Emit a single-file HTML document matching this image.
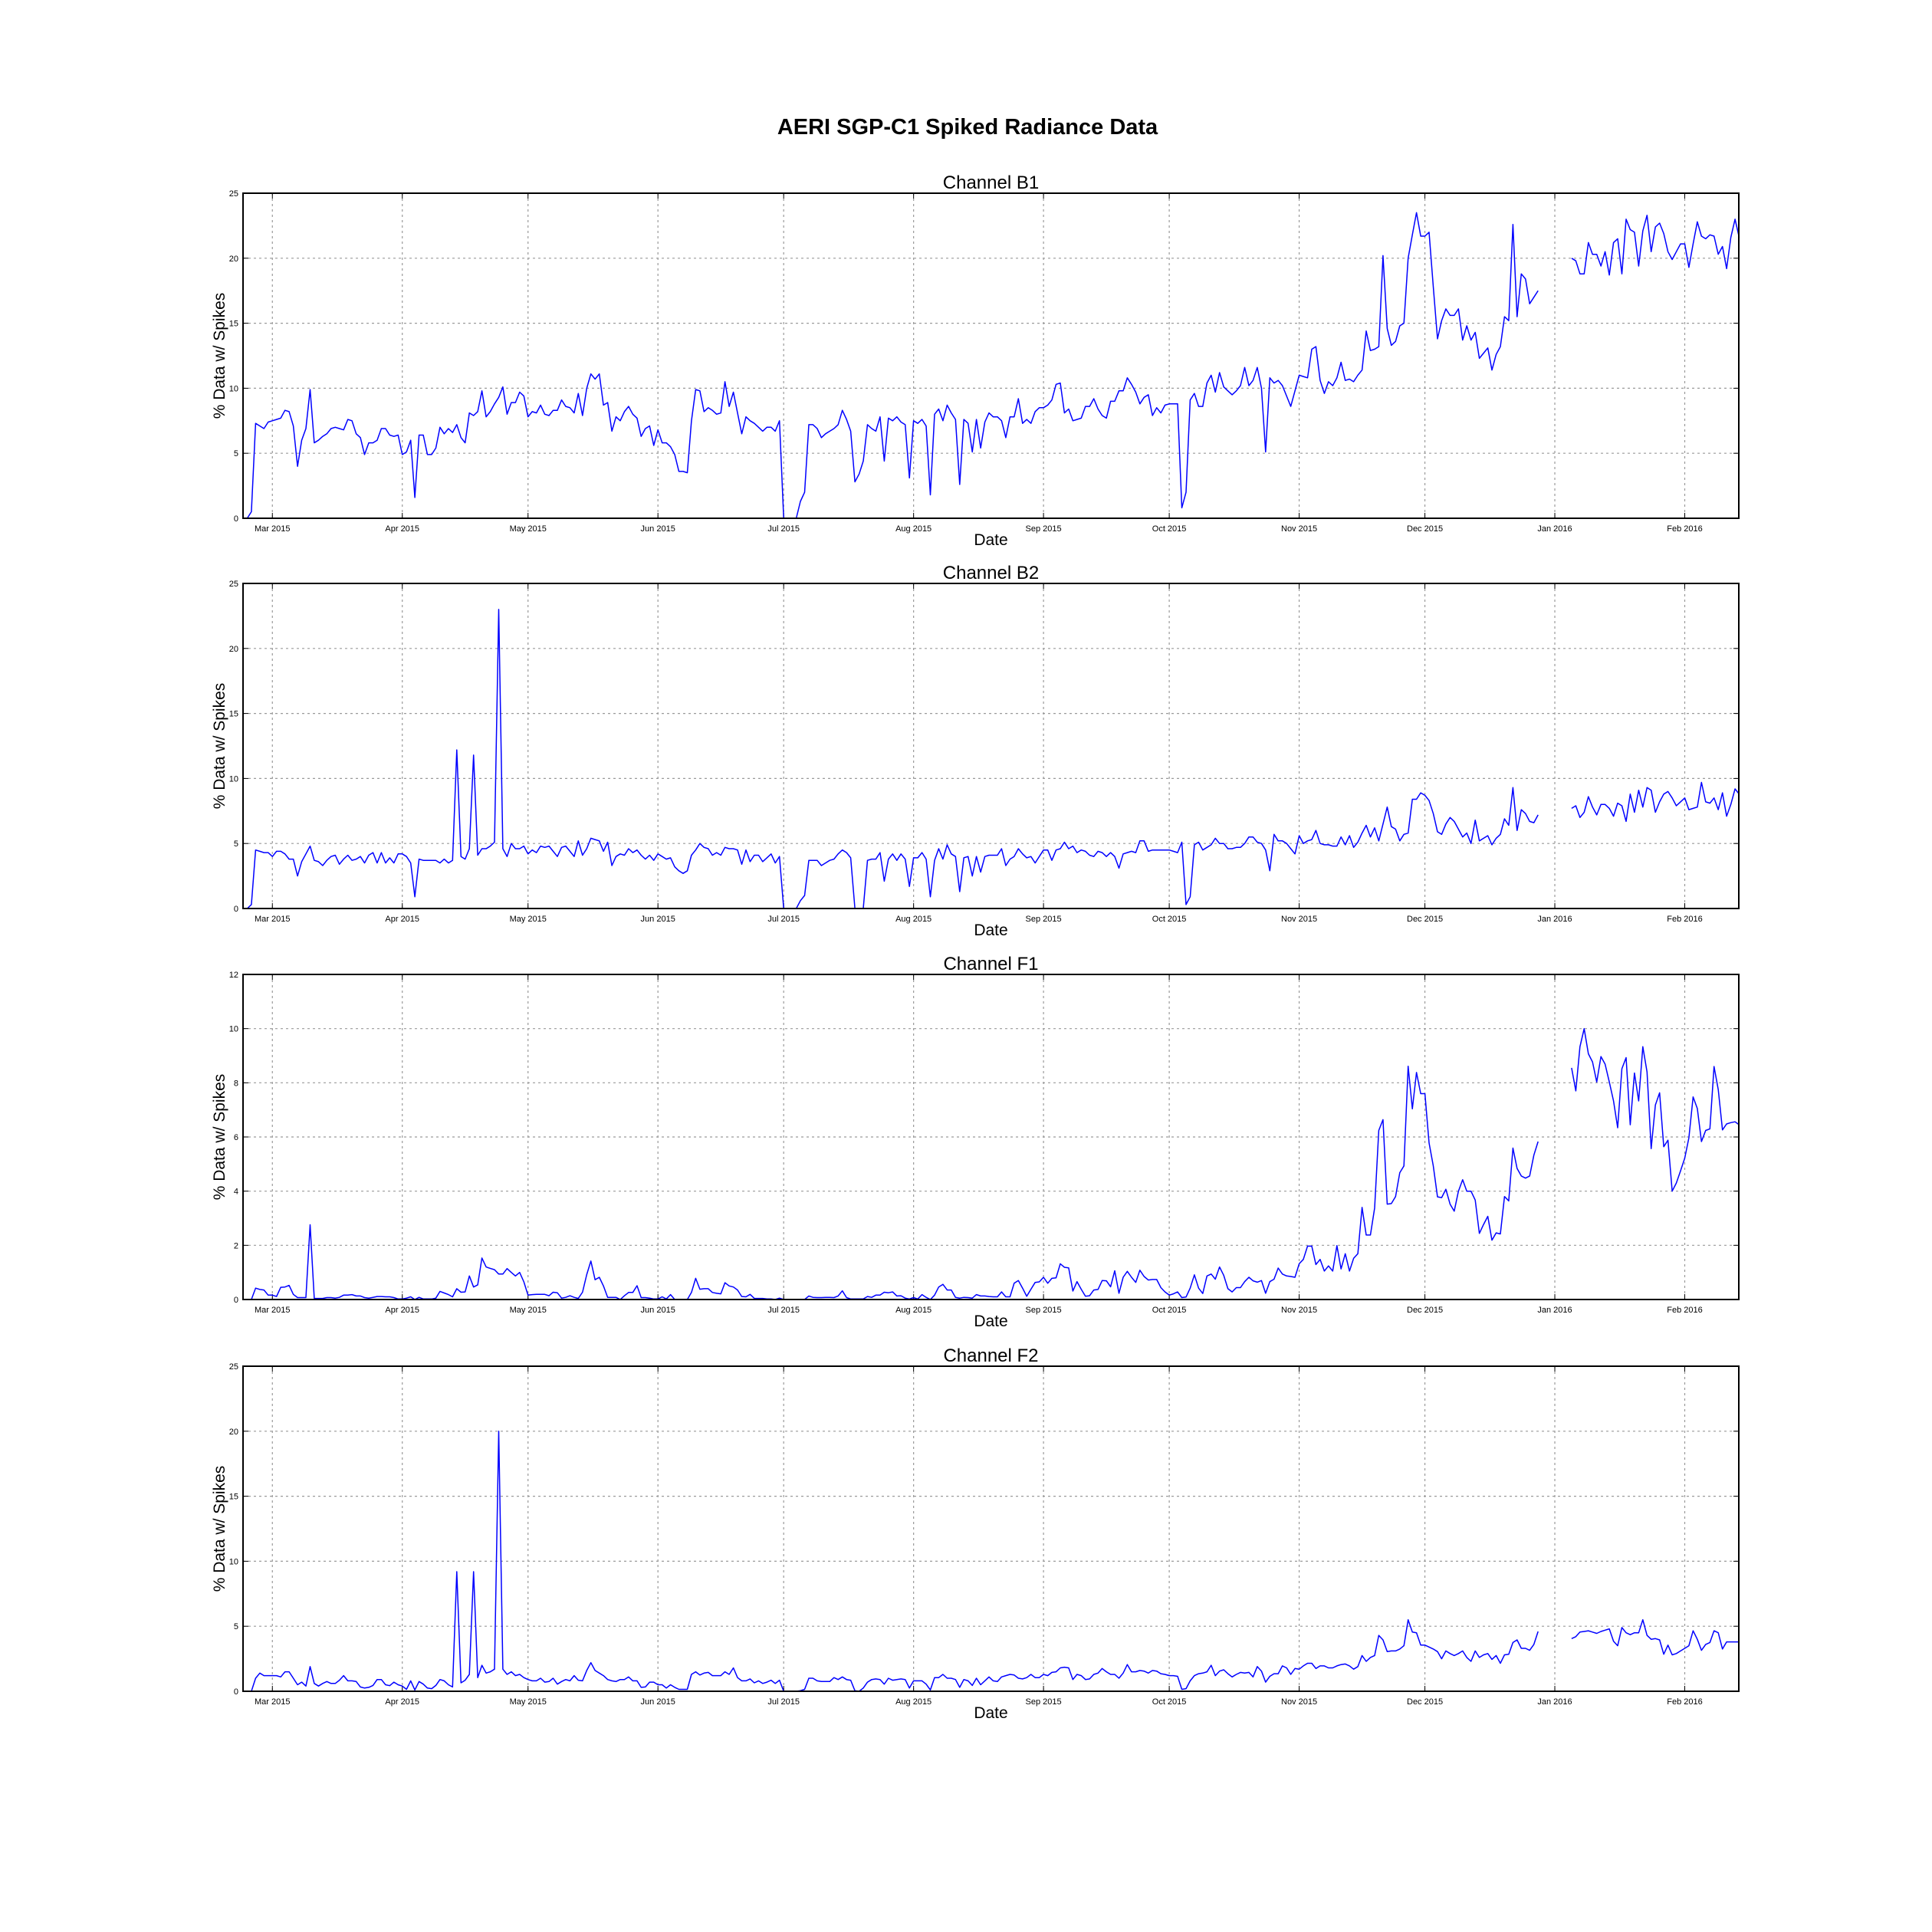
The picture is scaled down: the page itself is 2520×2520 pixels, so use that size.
<!DOCTYPE html>
<html><head><meta charset="utf-8"><style>
html,body{margin:0;padding:0;background:#fff;}
svg{display:block;font-family:"Liberation Sans","DejaVu Sans",sans-serif;}
</style></head><body>
<svg id="fig" width="2520" height="2520" viewBox="0 0 2520 2520" xmlns="http://www.w3.org/2000/svg">
<rect width="2520" height="2520" fill="#fff"/>
<text x="1262" y="175" text-anchor="middle" font-size="29" font-weight="bold">AERI SGP-C1 Spiked Radiance Data</text>
</svg>
<script>
// x-axis tick labels (first of each month)
const tickDates = ['2015-03-01','2015-04-01','2015-05-01','2015-06-01','2015-07-01','2015-08-01','2015-09-01','2015-10-01','2015-11-01','2015-12-01','2016-01-01','2016-02-01'];
const tickLabels = ['Mar 2015','Apr 2015','May 2015','Jun 2015','Jul 2015','Aug 2015','Sep 2015','Oct 2015','Nov 2015','Dec 2015','Jan 2016','Feb 2016'];
// segment start dates; each channel array holds one sub-array per segment of daily values
const segmentStarts = ['2015-02-22','2015-03-01','2015-04-01','2015-05-01','2015-06-01','2015-07-01','2015-08-01','2015-09-01','2015-10-01','2015-11-01','2015-12-01','2016-01-01','2016-02-01'];
const channelNames = ['Channel B1','Channel B2','Channel F1','Channel F2'];
const yMaxes = [25,25,12,25];
const yTickSteps = [5,5,2,5];
const N = null;
const b1 = [
[0,0,0.5,7.3,7.1,6.9,7.4],
[7.5,7.6,7.7,8.3,8.2,7.1,4.0,6.0,6.9,9.9,5.8,6.0,6.3,6.5,6.9,7.0,6.9,6.8,7.6,7.5,6.5,6.2,4.9,5.8,5.8,6.0,6.9,6.9,6.4,6.3,6.4],
[4.9,5.1,6.0,1.6,6.4,6.4,4.9,4.9,5.4,7.0,6.5,6.9,6.6,7.2,6.2,5.8,8.1,7.9,8.2,9.8,7.8,8.2,8.8,9.3,10.1,8.0,8.9,8.9,9.7,9.4],
[7.8,8.2,8.1,8.7,8.0,7.9,8.3,8.3,9.1,8.6,8.5,8.1,9.6,7.9,10.0,11.1,10.7,11.1,8.7,8.9,6.7,7.8,7.5,8.2,8.6,8.0,7.7,6.3,6.9,7.1,5.6],
[6.8,5.8,5.8,5.5,4.9,3.6,3.6,3.5,7.5,9.9,9.8,8.2,8.5,8.3,8.0,8.1,10.5,8.6,9.7,8.1,6.5,7.8,7.5,7.3,7.0,6.7,7.0,7.0,6.7,7.5],
[0,0,0,0,1.3,2.0,7.2,7.2,6.9,6.2,6.5,6.7,6.9,7.2,8.3,7.6,6.7,2.8,3.4,4.4,7.2,6.9,6.7,7.8,4.4,7.7,7.5,7.8,7.4,7.2,3.1],
[7.5,7.3,7.6,7.1,1.8,8.0,8.4,7.5,8.7,8.1,7.6,2.6,7.6,7.3,5.1,7.6,5.4,7.4,8.1,7.8,7.8,7.5,6.2,7.8,7.8,9.2,7.3,7.6,7.3,8.2,8.5],
[8.5,8.7,9.1,10.3,10.4,8.1,8.4,7.5,7.6,7.7,8.6,8.6,9.2,8.4,7.9,7.7,9.0,9.0,9.8,9.8,10.8,10.3,9.7,8.8,9.3,9.5,7.9,8.5,8.1,8.7],
[8.8,8.8,8.8,0.8,2.0,9.1,9.6,8.6,8.6,10.4,11.0,9.7,11.2,10.1,9.8,9.5,9.8,10.2,11.6,10.2,10.6,11.6,10.0,5.1,10.8,10.4,10.6,10.2,9.4,8.6,9.8],
[11.0,10.9,10.8,13.0,13.2,10.6,9.6,10.5,10.2,10.8,12.0,10.6,10.7,10.5,11.0,11.4,14.4,12.9,13.0,13.2,20.2,14.6,13.3,13.6,14.8,15.0,20.0,21.8,23.5,21.7],
[21.7,22.0,17.8,13.8,15.2,16.1,15.6,15.6,16.1,13.7,14.8,13.7,14.3,12.3,12.7,13.1,11.4,12.6,13.2,15.5,15.2,22.6,15.5,18.8,18.4,16.5,17.0,17.5,N,N,N],
[N,N,N,N,20.0,19.8,18.8,18.8,21.2,20.3,20.3,19.4,20.5,18.7,21.2,21.5,18.8,23.0,22.2,22.0,19.4,22.1,23.3,20.5,22.4,22.7,21.9,20.5,19.9,20.5,21.1],
[21.1,19.3,21.1,22.8,21.7,21.5,21.8,21.7,20.3,20.9,19.2,21.6,23.0,21.6]
];
const b2 = [
[0,0,0.3,4.5,4.4,4.3,4.3],
[4.0,4.4,4.4,4.2,3.8,3.8,2.5,3.6,4.2,4.8,3.7,3.6,3.3,3.7,4.0,4.1,3.4,3.8,4.1,3.7,3.8,4.0,3.5,4.1,4.3,3.5,4.3,3.5,3.9,3.5,4.2],
[4.2,4.0,3.5,0.9,3.8,3.7,3.7,3.7,3.7,3.5,3.8,3.5,3.7,12.2,4.0,3.8,4.6,11.8,4.1,4.6,4.6,4.8,5.1,23.0,4.6,4.0,5.0,4.6,4.6,4.8],
[4.2,4.5,4.3,4.8,4.7,4.8,4.4,4.0,4.7,4.8,4.4,4.0,5.2,4.1,4.6,5.4,5.3,5.2,4.4,5.1,3.3,4.0,4.2,4.1,4.6,4.3,4.5,4.1,3.8,4.1,3.7],
[4.2,4.0,3.8,3.9,3.2,2.9,2.7,2.9,4.1,4.5,5.0,4.7,4.6,4.1,4.3,4.1,4.7,4.6,4.6,4.5,3.4,4.5,3.6,4.1,4.1,3.6,3.9,4.2,3.5,4.0],
[0,0,0,0,0.6,1.0,3.7,3.7,3.7,3.3,3.5,3.7,3.8,4.2,4.5,4.3,3.9,0,0,0,3.7,3.8,3.8,4.3,2.1,3.8,4.2,3.7,4.2,3.8,1.7],
[3.9,3.9,4.3,3.8,0.9,3.7,4.6,3.8,4.9,4.2,4.0,1.3,3.9,4.0,2.5,4.0,2.8,4.0,4.1,4.1,4.1,4.6,3.3,3.8,4.0,4.6,4.2,3.9,4.0,3.5,4.0],
[4.5,4.5,3.7,4.5,4.6,5.1,4.6,4.8,4.3,4.5,4.4,4.1,4.0,4.4,4.3,4.0,4.3,4.0,3.1,4.2,4.3,4.4,4.3,5.2,5.2,4.4,4.5,4.5,4.5,4.5],
[4.5,4.4,4.3,5.1,0.3,0.9,4.9,5.1,4.5,4.7,4.9,5.4,5.0,5.0,4.6,4.6,4.7,4.7,5.0,5.5,5.5,5.1,5.0,4.5,2.9,5.7,5.2,5.2,5.0,4.6,4.2],
[5.6,5.0,5.2,5.3,6.0,5.0,4.9,4.9,4.8,4.8,5.5,4.9,5.6,4.7,5.1,5.8,6.4,5.5,6.2,5.2,6.5,7.8,6.3,6.1,5.2,5.7,5.8,8.4,8.4,8.9],
[8.7,8.3,7.3,5.9,5.7,6.5,7.0,6.7,6.1,5.5,5.8,5.0,6.8,5.2,5.4,5.6,4.9,5.4,5.7,6.9,6.4,9.3,6.0,7.6,7.3,6.7,6.6,7.2,N,N,N],
[N,N,N,N,7.7,7.9,7.0,7.4,8.6,7.8,7.2,8.0,8.0,7.7,7.1,8.1,7.9,6.7,8.8,7.4,9.1,7.8,9.3,9.1,7.4,8.2,8.8,9.0,8.5,7.9,8.2],
[8.5,7.6,7.7,7.8,9.7,8.2,8.1,8.5,7.6,8.9,7.1,8.0,9.2,8.8]
];
const f1 = [
[0,0,0,0.42,0.37,0.35,0.16],
[0.16,0.11,0.45,0.46,0.52,0.19,0.07,0.07,0.07,2.76,0.04,0.04,0.04,0.07,0.07,0.05,0.08,0.16,0.16,0.18,0.13,0.13,0.07,0.05,0.08,0.11,0.11,0.1,0.1,0.07,0.02],
[0.02,0.05,0.1,0,0.08,0.02,0.02,0.02,0.05,0.3,0.24,0.18,0.1,0.4,0.27,0.28,0.87,0.46,0.54,1.53,1.2,1.15,1.1,0.94,0.94,1.14,1.0,0.87,1.0,0.65],
[0.16,0.18,0.19,0.19,0.19,0.14,0.27,0.25,0.05,0.08,0.14,0.08,0.04,0.27,0.92,1.42,0.73,0.82,0.5,0.08,0.08,0.08,0,0.14,0.26,0.26,0.51,0.07,0.07,0.05,0.02],
[0.02,0.1,0.02,0.18,0,0,0,0,0.26,0.78,0.38,0.4,0.4,0.26,0.23,0.21,0.62,0.5,0.46,0.35,0.11,0.1,0.19,0.04,0.04,0.04,0.02,0.02,0,0.05],
[0,0,0,0,0,0,0.13,0.08,0.07,0.07,0.08,0.08,0.07,0.13,0.32,0.07,0.02,0.02,0.02,0.02,0.11,0.08,0.16,0.16,0.27,0.25,0.28,0.13,0.14,0.05,0.02],
[0.07,0.02,0.18,0.08,0,0.16,0.46,0.56,0.35,0.35,0.08,0.05,0.08,0.07,0.05,0.18,0.13,0.13,0.11,0.1,0.1,0.28,0.1,0.1,0.6,0.7,0.42,0.12,0.38,0.63,0.65],
[0.82,0.6,0.78,0.8,1.32,1.19,1.17,0.31,0.66,0.38,0.12,0.14,0.35,0.37,0.7,0.69,0.47,1.06,0.23,0.82,1.04,0.82,0.63,1.08,0.85,0.72,0.74,0.74,0.44,0.28],
[0.16,0.21,0.28,0.07,0.09,0.42,0.91,0.42,0.22,0.87,0.94,0.75,1.2,0.89,0.4,0.28,0.44,0.44,0.66,0.82,0.69,0.64,0.7,0.23,0.66,0.75,1.16,0.94,0.87,0.85,0.82],
[1.32,1.48,1.97,1.97,1.29,1.48,1.05,1.24,1.05,1.99,1.13,1.69,1.05,1.52,1.69,3.4,2.38,2.38,3.38,6.24,6.64,3.52,3.54,3.8,4.68,4.93,8.61,7.04,8.38,7.6],
[7.6,5.78,4.93,3.79,3.76,4.07,3.52,3.26,4.0,4.42,4.0,4.0,3.67,2.44,2.77,3.07,2.19,2.46,2.42,3.8,3.64,5.59,4.84,4.56,4.48,4.56,5.33,5.83,N,N,N],
[N,N,N,N,8.55,7.7,9.33,10.0,9.07,8.77,8.03,8.97,8.69,8.03,7.33,6.34,8.52,8.93,6.45,8.36,7.33,9.33,8.4,5.57,7.18,7.63,5.64,5.88,4.0,4.3,4.75],
[5.22,5.97,7.48,7.05,5.83,6.24,6.3,8.6,7.75,6.26,6.48,6.53,6.56,6.45]
];
const f2 = [
[0,0,0,1.0,1.4,1.2,1.2],
[1.2,1.2,1.1,1.5,1.5,1.0,0.5,0.7,0.4,1.9,0.6,0.4,0.6,0.75,0.6,0.6,0.85,1.2,0.8,0.8,0.75,0.33,0.25,0.3,0.45,0.9,0.9,0.5,0.43,0.7,0.5],
[0.4,0.15,0.8,0.1,0.75,0.55,0.25,0.2,0.45,0.9,0.8,0.5,0.33,9.2,0.65,0.85,1.3,9.2,1.05,2.0,1.4,1.5,1.7,20.0,1.7,1.3,1.5,1.2,1.3,1.05],
[0.9,0.8,0.8,1.0,0.7,0.75,1.0,0.55,0.75,0.9,0.8,1.2,0.85,0.8,1.6,2.2,1.6,1.4,1.2,0.9,0.8,0.75,0.9,0.9,1.1,0.8,0.8,0.3,0.33,0.7,0.7],
[0.5,0.5,0.25,0.5,0.3,0.15,0.15,0.15,1.3,1.5,1.25,1.4,1.45,1.2,1.2,1.2,1.5,1.3,1.8,1.05,0.8,0.8,0.95,0.65,0.8,0.6,0.7,0.85,0.6,0.85],
[0,0,0,0,0.05,0.15,1.0,1.0,0.8,0.75,0.75,0.75,1.05,0.9,1.1,0.9,0.85,0.04,0,0.25,0.7,0.9,0.95,0.9,0.55,1.0,0.85,0.9,0.95,0.9,0.25],
[0.8,0.8,0.8,0.55,0.1,1.05,1.05,1.3,1.0,1.0,0.9,0.3,0.9,0.8,0.45,1.0,0.5,0.8,1.1,0.8,0.75,1.1,1.2,1.3,1.25,1.0,0.95,1.05,1.3,1.05,1.05],
[1.3,1.2,1.45,1.5,1.8,1.85,1.8,0.9,1.3,1.2,0.9,0.95,1.3,1.4,1.75,1.5,1.3,1.3,1.0,1.4,2.05,1.5,1.5,1.6,1.55,1.4,1.6,1.55,1.35,1.3],
[1.2,1.2,1.15,0.15,0.2,0.8,1.2,1.35,1.4,1.5,2.0,1.2,1.55,1.65,1.35,1.1,1.3,1.45,1.4,1.45,1.1,1.9,1.55,0.7,1.15,1.35,1.35,1.95,1.8,1.3,1.75],
[1.7,1.95,2.15,2.15,1.75,1.95,1.95,1.8,1.8,1.95,2.05,2.1,1.95,1.7,1.9,2.75,2.3,2.6,2.75,4.3,3.95,3.05,3.1,3.1,3.25,3.5,5.5,4.55,4.5,3.55],
[3.55,3.4,3.25,3.05,2.5,3.1,2.9,2.75,2.9,3.1,2.6,2.3,3.1,2.6,2.8,2.9,2.45,2.75,2.15,2.8,2.85,3.75,3.95,3.3,3.3,3.15,3.6,4.6,N,N,N],
[N,N,N,N,4.05,4.2,4.55,4.6,4.65,4.55,4.45,4.6,4.7,4.8,3.85,3.5,4.9,4.5,4.35,4.5,4.5,5.5,4.3,4.0,4.05,3.95,2.85,3.55,2.8,2.9,3.1],
[3.3,3.5,4.65,4.0,3.15,3.6,3.75,4.65,4.5,3.25,3.8,3.8,3.8,3.8]
];
const channelData = [b1,b2,f1,f2];
const channelKeys = ['b1','b2','f1','f2'];

const NS='http://www.w3.org/2000/svg';
const svg=document.getElementById('fig');
const L=317,R=2268,PH=424;
const tops=[252,761,1271,1782];
const DAY=86400000;
const ORIGIN=Date.UTC(2015,2,1);
function dayOf(s){const p=s.split('-');return (Date.UTC(+p[0],+p[1]-1,+p[2])-ORIGIN)/DAY;}
const XMIN=-7,XMAX=349.9;
function xScale(d){return L+(d-XMIN)/(XMAX-XMIN)*(R-L);}
function mk(tag,attrs,parent){const e=document.createElementNS(NS,tag);for(const k in attrs)e.setAttribute(k,attrs[k]);(parent||svg).appendChild(e);return e;}

channelNames.forEach((name,ci)=>{
  const top=tops[ci],bot=top+PH,ymax=yMaxes[ci];
  const yScale=v=>bot-v/ymax*PH;
  const g=mk('g',{});
  
  
  for(let v=0;v<=ymax+1e-9;v+=yTickSteps[ci]){
    const y=yScale(v);
    if(v>0&&v<ymax){const gl=mk('line',{x1:L,x2:R,y1:y,y2:y,stroke:'#9a9a9a','stroke-width':1.2,'stroke-dasharray':'3,4'},g);
      
      }
    mk('line',{x1:L,x2:L+7,y1:y,y2:y,stroke:'#000','stroke-width':1},g);
    mk('line',{x1:R,x2:R-7,y1:y,y2:y,stroke:'#000','stroke-width':1},g);
    const t=mk('text',{x:L-6,y:y+4,'text-anchor':'end','font-size':11},g);
    
    
    t.textContent=String(v);
  }
  tickDates.forEach((d,i)=>{
    const x=xScale(dayOf(d));
    const gl=mk('line',{x1:x,x2:x,y1:top,y2:bot,stroke:'#9a9a9a','stroke-width':1.2,'stroke-dasharray':'3,4'},g);
    
    
    mk('line',{x1:x,x2:x,y1:bot,y2:bot-7,stroke:'#000','stroke-width':1},g);
    mk('line',{x1:x,x2:x,y1:top,y2:top+7,stroke:'#000','stroke-width':1},g);
    const t=mk('text',{x:x,y:bot+17,'text-anchor':'middle','font-size':11},g);
    
    
    t.textContent=tickLabels[i];
  });
  let d='',pen=false;
  channelData[ci].forEach((seg,si)=>{
    const s0=dayOf(segmentStarts[si]);
    seg.forEach((v,j)=>{
      if(v===null){pen=false;return;}
      const x=xScale(s0+j),y=yScale(v);
      d+=(pen?'L':'M')+x.toFixed(1)+' '+y.toFixed(1);
      pen=true;
    });
  });
  const p=mk('path',{d:d,fill:'none',stroke:'#0000ff','stroke-width':1.5,'stroke-linejoin':'round'},g);
  
  
  const fr=mk('rect',{x:L,y:top,width:R-L,height:PH,fill:'none',stroke:'#000','stroke-width':2},g);
  
  
  const tt=mk('text',{x:(L+R)/2,y:top-6,'text-anchor':'middle','font-size':24},g);
  
  
  tt.textContent=name;
  const xl=mk('text',{x:(L+R)/2,y:bot+35,'text-anchor':'middle','font-size':21},g);
  
  
  xl.textContent='Date';
  const yc=top+PH/2;
  const yl=mk('text',{x:293,y:yc,'text-anchor':'middle','font-size':21,transform:'rotate(-90 293 '+yc+')'},g);
  
  
  yl.textContent='% Data w/ Spikes';
});
</script>
</body></html>
